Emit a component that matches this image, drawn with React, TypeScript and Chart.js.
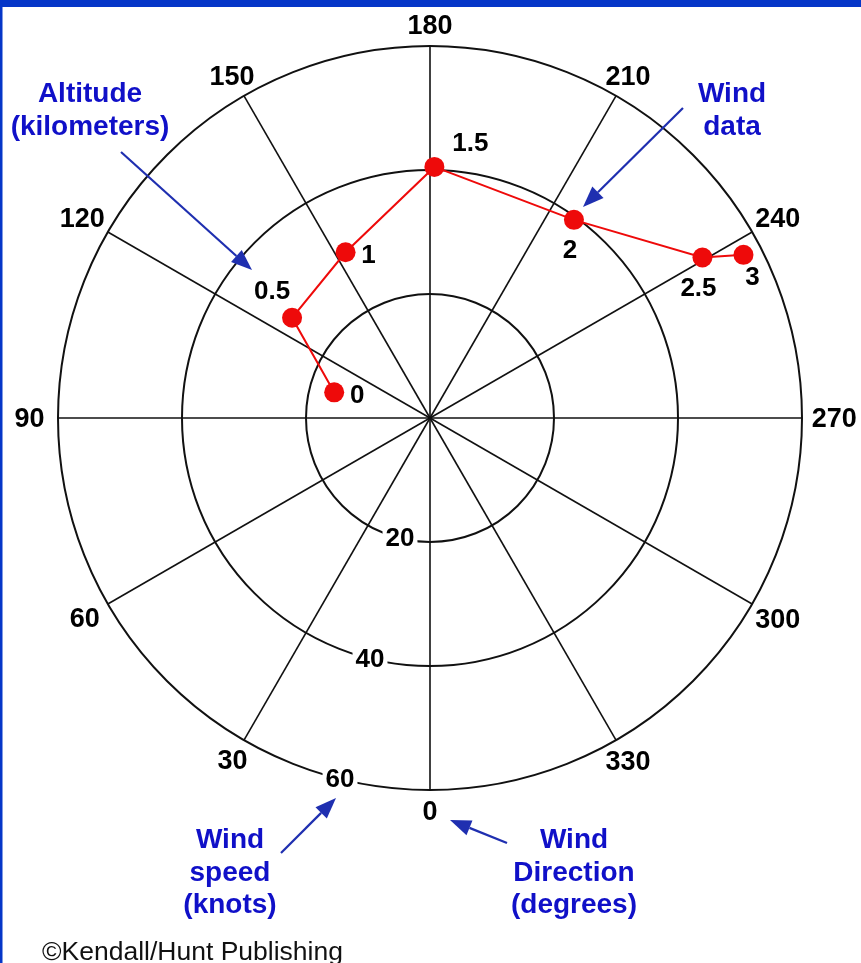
import React, { useEffect, useRef } from 'react';
import { Chart, registerables } from 'chart.js';

Chart.register(...registerables);

const altitudes = ['0', '0.5', '1', '1.5', '2', '2.5', '3']; // km
const windSpeeds = [16, 27.5, 30, 40.5, 39.5, 51, 57]; // knots
const windDirections = [105, 126, 153, 181, 216, 239.5, 242.5]; // degrees
const altitudeLabelPlacement = ['right', 'upperLeft', 'right', 'upperRight', 'below', 'below', 'lowerRight'];

const directionTicks = [0, 30, 60, 90, 120, 150, 180, 210, 240, 270, 300, 330];
const speedTicks = [20, 40, 60];
const speedMax = 60;
const speedTickBearing = 14; // degrees, direction along which speed tick labels sit

const annotations = [
  { lines: ['Altitude', '(kilometers)'], x: 90, y: 102, from: [121, 152], to: [252, 270] },
  { lines: ['Wind', 'data'], x: 732, y: 102, from: [683, 108], to: [583, 207] },
  { lines: ['Wind', 'speed', '(knots)'], x: 230, y: 848, from: [281, 853], to: [336, 798] },
  { lines: ['Wind', 'Direction', '(degrees)'], x: 574, y: 848, from: [507, 843], to: [450, 820] },
];
const copyright = '\u00A9Kendall/Hunt Publishing';

const FONT = '"Liberation Sans", Arial, Helvetica, sans-serif';
const RED = '#ee0a0a';
const BLUE_TEXT = '#1010c8';
const BLUE_ARROW = '#1f2fb0';
const FRAME = '#0536c8';

const toRad = (d: number) => (d * Math.PI) / 180;

const points = windSpeeds.map((s, i) => ({
  x: -s * Math.sin(toRad(windDirections[i])),
  y: -s * Math.cos(toRad(windDirections[i])),
}));

const placementOffset: Record<string, [number, number]> = {
  right: [23, 4],
  upperLeft: [-20, -26],
  upperRight: [36, -23],
  below: [-4, 31],
  lowerRight: [9, 23],
};

function drawArrow(ctx: CanvasRenderingContext2D, from: number[], to: number[]) {
  const [x1, y1] = from;
  const [x2, y2] = to;
  const ang = Math.atan2(y2 - y1, x2 - x1);
  const len = 21;
  const hw = 8;
  const bx = x2 - len * Math.cos(ang);
  const by = y2 - len * Math.sin(ang);
  ctx.save();
  ctx.strokeStyle = BLUE_ARROW;
  ctx.fillStyle = BLUE_ARROW;
  ctx.lineWidth = 2.2;
  ctx.beginPath();
  ctx.moveTo(x1, y1);
  ctx.lineTo(bx, by);
  ctx.stroke();
  ctx.beginPath();
  ctx.moveTo(x2, y2);
  ctx.lineTo(bx + hw * Math.sin(ang), by - hw * Math.cos(ang));
  ctx.lineTo(bx - hw * Math.sin(ang), by + hw * Math.cos(ang));
  ctx.closePath();
  ctx.fill();
  ctx.restore();
}

const polarPlugin = {
  id: 'polarGrid',
  beforeDraw(chart: any) {
    const ctx: CanvasRenderingContext2D = chart.ctx;
    ctx.save();
    ctx.fillStyle = '#ffffff';
    ctx.fillRect(0, 0, chart.width, chart.height);
    ctx.fillStyle = FRAME;
    ctx.fillRect(0, 0, chart.width, 7);
    ctx.fillRect(0, 0, 2.5, chart.height);
    ctx.restore();
  },
  beforeDatasetsDraw(chart: any) {
    const ctx: CanvasRenderingContext2D = chart.ctx;
    const xs = chart.scales.x;
    const ys = chart.scales.y;
    const cx = xs.getPixelForValue(0);
    const cy = ys.getPixelForValue(0);
    const rPx = (v: number) => xs.getPixelForValue(v) - cx;
    const R = rPx(speedMax);
    ctx.save();
    // circles
    ctx.strokeStyle = '#111';
    ctx.lineWidth = 2;
    speedTicks.forEach((v) => {
      ctx.beginPath();
      ctx.arc(cx, cy, rPx(v), 0, Math.PI * 2);
      ctx.stroke();
    });
    // spokes
    ctx.lineWidth = 1.6;
    directionTicks.forEach((d) => {
      const a = toRad(d);
      ctx.beginPath();
      ctx.moveTo(cx, cy);
      ctx.lineTo(cx - R * Math.sin(a), cy + R * Math.cos(a));
      ctx.stroke();
    });
    // speed tick labels with white backdrop
    ctx.font = `bold 26px ${FONT}`;
    ctx.textAlign = 'center';
    ctx.textBaseline = 'middle';
    const tb = toRad(speedTickBearing);
    speedTicks.forEach((v) => {
      const r = rPx(v);
      const x = cx - r * Math.sin(tb);
      const y = cy + r * Math.cos(tb);
      const label = String(v);
      const w = ctx.measureText(label).width;
      ctx.fillStyle = '#ffffff';
      ctx.fillRect(x - w / 2 - 3, y - 12, w + 6, 24);
      ctx.fillStyle = '#000';
      ctx.fillText(label, x, y + 1);
    });
    // direction labels
    ctx.font = `bold 27px ${FONT}`;
    directionTicks.forEach((d) => {
      const a = toRad(d);
      const label = String(d);
      const w = ctx.measureText(label).width;
      const dist = R + 21 + 0.5 * (w / 2) * Math.abs(Math.sin(a)) * Math.abs(Math.sin(a));
      const x = cx - dist * Math.sin(a);
      const y = cy + dist * Math.cos(a);
      ctx.fillStyle = '#000';
      ctx.fillText(label, x, y + 2);
    });
    ctx.restore();
  },
  afterDatasetsDraw(chart: any) {
    const ctx: CanvasRenderingContext2D = chart.ctx;
    const xs = chart.scales.x;
    const ys = chart.scales.y;
    ctx.save();
    // altitude labels
    ctx.font = `bold 26px ${FONT}`;
    ctx.textAlign = 'center';
    ctx.textBaseline = 'middle';
    ctx.fillStyle = '#000';
    points.forEach((p, i) => {
      const [ox, oy] = placementOffset[altitudeLabelPlacement[i]];
      const px = xs.getPixelForValue(p.x);
      const py = ys.getPixelForValue(p.y);
      ctx.fillText(altitudes[i], px + ox, py + oy);
    });
    // annotations
    ctx.font = `bold 28px ${FONT}`;
    ctx.textBaseline = 'alphabetic';
    ctx.fillStyle = BLUE_TEXT;
    annotations.forEach((an) => {
      an.lines.forEach((ln, k) => {
        ctx.fillText(ln, an.x, an.y + k * 32.5);
      });
      drawArrow(ctx, an.from, an.to);
    });
    // copyright
    ctx.font = `26.5px ${FONT}`;
    ctx.textAlign = 'left';
    ctx.fillStyle = '#111';
    ctx.fillText(copyright, 42, 960);
    ctx.restore();
  },
};

export default function App() {
  const ref = useRef<HTMLCanvasElement>(null);
  useEffect(() => {
    const chart = new Chart(ref.current as HTMLCanvasElement, {
      type: 'scatter',
      data: {
        datasets: [
          {
            label: 'Wind data',
            data: points,
            showLine: true,
            borderColor: RED,
            borderWidth: 2,
            backgroundColor: RED,
            pointBackgroundColor: RED,
            pointBorderColor: RED,
            pointBorderWidth: 0,
            pointRadius: 10,
            pointHoverRadius: 10,
            clip: false,
          },
        ],
      },
      options: {
        responsive: false,
        animation: false,
        events: [],
        layout: { padding: { left: 58, right: 59, top: 46, bottom: 173 } },
        scales: {
          x: { type: 'linear', min: -speedMax, max: speedMax, display: false },
          y: { type: 'linear', min: -speedMax, max: speedMax, display: false },
        },
        plugins: { legend: { display: false }, tooltip: { enabled: false } },
      },
      plugins: [polarPlugin],
    } as any);
    return () => chart.destroy();
  }, []);
  return (
    <div style={{ position: 'absolute', left: 0, top: 0, width: 861, height: 963 }}>
      <canvas ref={ref} width={861} height={963} style={{ display: 'block', width: 861, height: 963 }} />
    </div>
  );
}
